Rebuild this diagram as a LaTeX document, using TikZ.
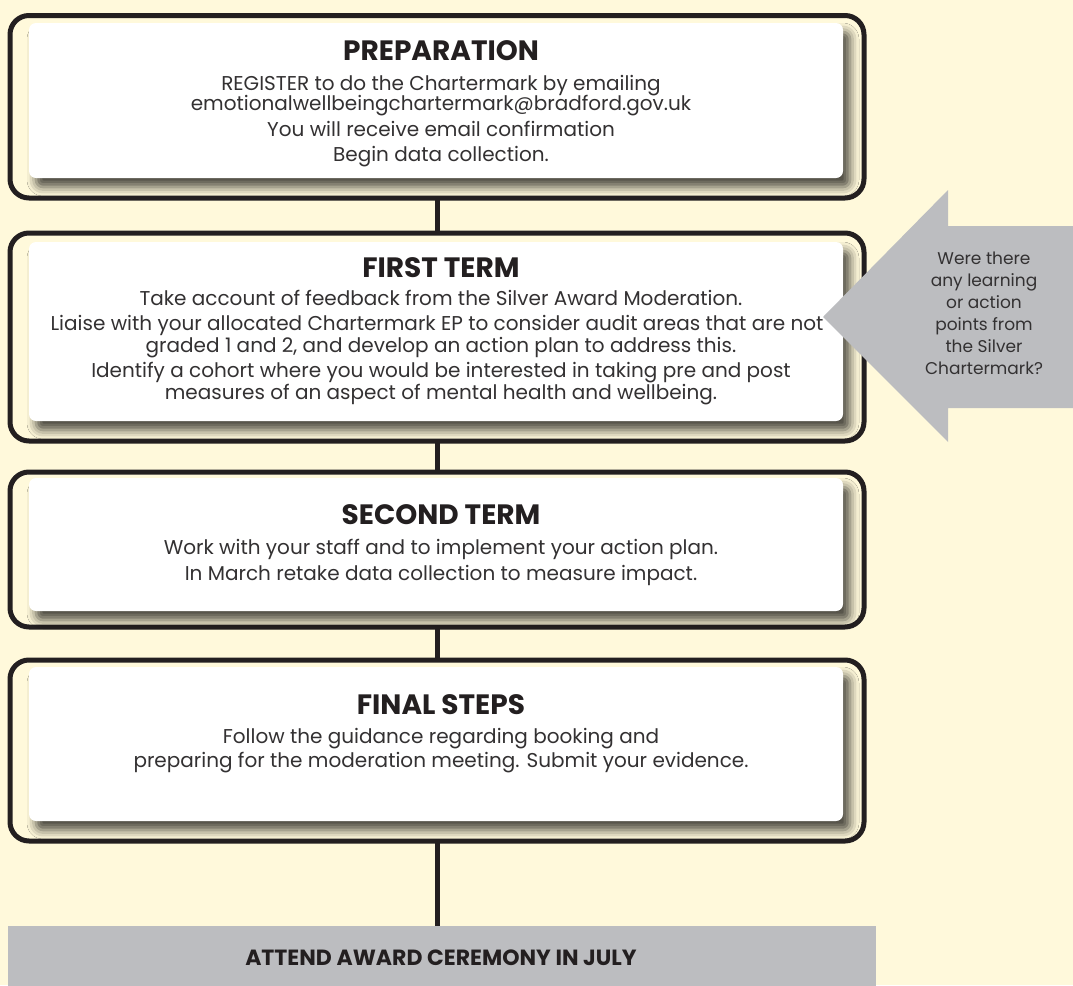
\documentclass[tikz,border=0pt]{standalone}
\usepackage{fontspec}
\setmainfont{Poppins}
\usetikzlibrary{shadows.blur}
\definecolor{cream}{HTML}{FFF9DB}
\definecolor{ink}{HTML}{231F20}
\definecolor{bodyc}{HTML}{333132}
\definecolor{greyc}{HTML}{BCBDC0}
\begin{document}
\begin{tikzpicture}[x=1pt,y=-1pt,
  frame/.style={draw=ink, line width=5pt, rounded corners=19pt, inner sep=0pt, outer sep=0pt},
  card/.style={fill=white, rounded corners=7pt, inner sep=0pt, outer sep=0pt,
    blur shadow={shadow xshift=7pt, shadow yshift=-9pt, shadow blur radius=9pt, shadow opacity=70}},
  ttl/.style={anchor=base, font=\fontsize{28}{32}\selectfont\bfseries, text=ink, inner sep=0pt},
  txt/.style={anchor=base, font=\fontsize{20}{22}\selectfont, text=bodyc, inner sep=0pt},
  link/.style={draw=ink, line width=5pt}]
\useasboundingbox (0,0) rectangle (1073,985);
\fill[cream] (0,0) rectangle (1073,985);
\begin{scope}
\clip (0,0) rectangle (1073,985);
% frames
\node[frame, minimum width=854pt, minimum height=182.5pt] (f1) at (437,106.75) {};
\node[frame, minimum width=854pt, minimum height=208pt] (f2) at (437,337) {};
\node[frame, minimum width=854pt, minimum height=155pt] (f3) at (437,549.5) {};
\node[frame, minimum width=854pt, minimum height=181pt] (f4) at (437,750.5) {};
% bar
\node[fill=greyc, minimum width=868pt, minimum height=64pt, inner sep=0pt, outer sep=0pt] (bar) at (442,958) {};
% connectors
\draw[link] (f1.south) -- (f2.north);
\draw[link] (f2.south) -- (f3.north);
\draw[link] (f3.south) -- (f4.north);
\draw[link] (f4.south) -- (f4.south |- bar.north);
% cards
\node[card, minimum width=814pt, minimum height=155pt] (c1) at (436,100.5) {};
\node[card, minimum width=814pt, minimum height=179pt] (c2) at (436,331.5) {};
\node[card, minimum width=814pt, minimum height=133pt] (c3) at (436,544.5) {};
\node[card, minimum width=814pt, minimum height=154pt] (c4) at (436,744) {};
% texts card 1
\node[ttl] (t1) at (441,60) {PREPARATION};
\node[txt] (t1a) at (441,90) {REGISTER to do the Chartermark by emailing};
\node[txt] (t1b) at (441,110) {emotionalwellbeingchartermark@bradford.gov.uk};
\node[txt] (t1c) at (441,136) {You will receive email confirmation};
\node[txt] (t1d) at (441,161) {Begin data collection.};
% card 2
\node[ttl] (t2) at (441,277) {FIRST TERM};
\node[txt] (t2a) at (441,305) {Take account of feedback from the Silver Award Moderation.};
\node[txt] (t2b) at (437,330) {Liaise with your allocated Chartermark EP to consider audit areas that are not};
\node[txt] (t2c) at (441,352) {graded 1 and 2, and develop an action plan to address this.};
\node[txt] (t2d) at (441,377) {Identify a cohort where you would be interested in taking pre and post};
\node[txt] (t2e) at (441,399) {measures of an aspect of mental health and wellbeing.};
% card 3
\node[ttl] (t3) at (441,524) {SECOND TERM};
\node[txt] (t3a) at (441,554) {Work with your staff and to implement your action plan.};
\node[txt] (t3b) at (441,580) {In March retake data collection to measure impact.};
% card 4
\node[ttl] (t4) at (441,714) {FINAL STEPS};
\node[txt] (t4a) at (441,743) {Follow the guidance regarding booking and};
\node[txt] (t4b) at (441,767) {preparing for the moderation meeting. Submit your evidence.};
% bar text
\node[anchor=base, font=\fontsize{22}{26}\selectfont\bfseries, text=ink, inner sep=0pt] (bt) at (441,965) {ATTEND AWARD CEREMONY IN JULY};
% side arrow
\fill[greyc] (823,317) -- (948,190) -- (948,226) -- (1073,226) -- (1073,408) -- (948,408) -- (948,442) -- cycle;
\node[align=center, font=\fontsize{17}{22}\selectfont, text=bodyc, inner sep=0pt] (q) at (984,313)
  {Were there\\any learning\\or action\\points from\\the Silver\\Chartermark?};
\end{scope}
\end{tikzpicture}
\end{document}
